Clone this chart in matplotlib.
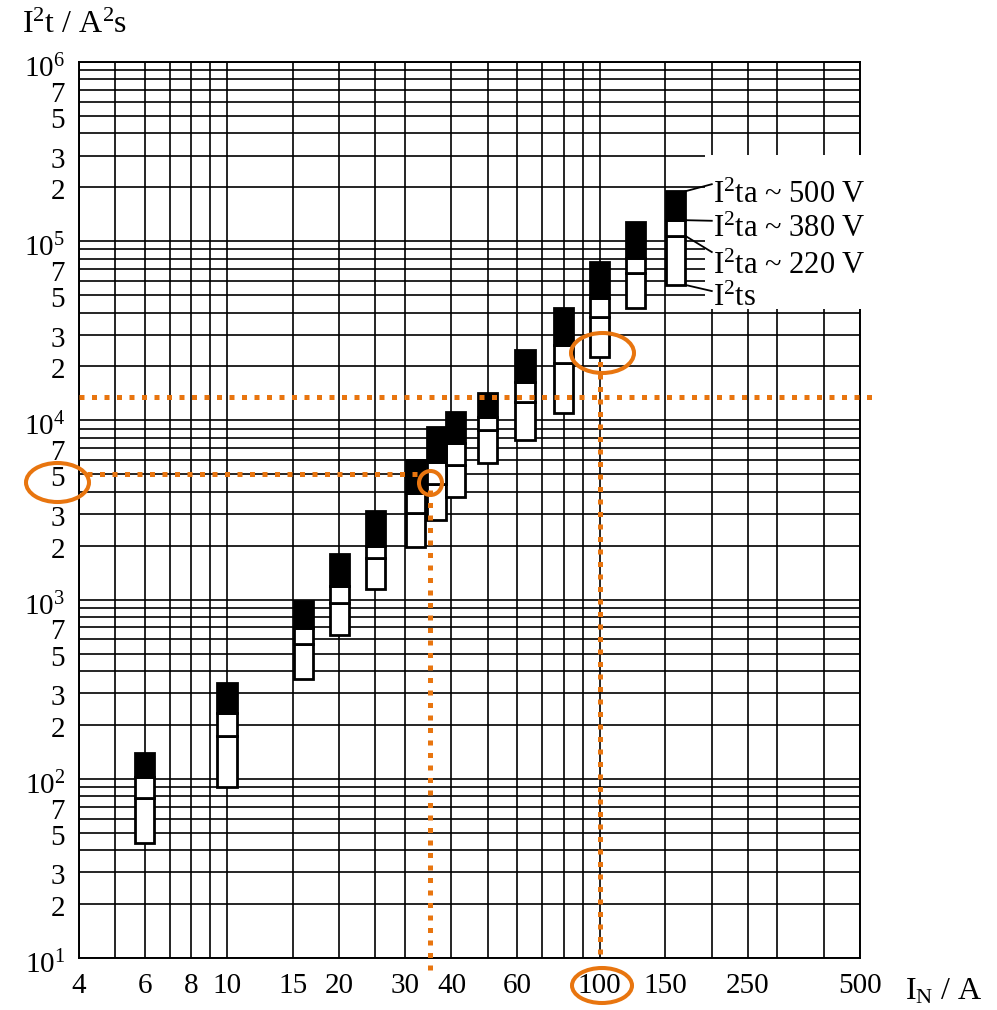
import numpy as np
import matplotlib
matplotlib.use('Agg')
import matplotlib.pyplot as plt
from matplotlib.patches import Rectangle, Ellipse
from matplotlib.ticker import NullFormatter
from matplotlib.transforms import ScaledTranslation

plt.rcParams['font.family'] = 'Liberation Serif'
plt.rcParams['mathtext.fontset'] = 'custom'
plt.rcParams['mathtext.rm'] = 'Liberation Serif'
plt.rcParams['mathtext.it'] = 'Liberation Serif:italic'

# rated currents (A) and where each column is drawn on the x axis
rated = [6, 10, 16, 20, 25, 32, 35, 40, 50, 63, 80, 100, 125, 160]
bar_pos = [6, 10, 16, 20, 25, 32, 36.5, 41, 50, 63, 80, 100, 125, 160]

# I2t values in A2s
i2ts = [44, 90, 360, 635, 1150, 1970, 2780, 3740, 5790, 7780, 11000, 22600, 42400, 57000]
i2ta_220 = [78, 173, 565, 957, 1710, 3040, 4400, 5640, 8840, 12700, 20900, 37800, 66500, 107000]
i2ta_380 = [102, 233, 695, 1190, 1990, 3940, 5860, 7480, 10450, 16400, 26300, 48200, 80500, 131000]
i2ta_500 = [139, 343, 982, 1800, 3120, 6010, 9190, 11140, 14200, 24700, 42400, 76600, 128000, 190000]

legend_labels = ['I$^\\mathregular{2}$ta ~ 500 V', 'I$^\\mathregular{2}$ta ~ 380 V',
                 'I$^\\mathregular{2}$ta ~ 220 V', 'I$^\\mathregular{2}$ts']

x_labeled = [4, 6, 8, 10, 15, 20, 30, 40, 60, 100, 150, 250, 500]
x_unlabeled = [5, 7, 9, 25, 50, 70, 80, 90, 200, 300, 400]
y_mant_labeled = [1, 2, 3, 5, 7]
y_mant_unlabeled = [4, 6, 8, 9]

orange = '#e8750f'
dotted = (0, (1, 1.5))
fs = 21

fig = plt.figure(figsize=(9.97, 10.10), dpi=100)
ax = fig.add_axes([79 / 997, 52 / 1010, 781 / 997, 896 / 1010])
ax.set_xscale('log')
ax.set_yscale('log')
ax.set_xlim(4, 500)
ax.set_ylim(10, 1e6)

# ticks / grid
y_major, y_lab = [], []
for k in range(1, 6):
    for m in y_mant_labeled:
        y_major.append(m * 10 ** k)
        y_lab.append(r'$\mathregular{10^{%d}}$' % k if m == 1 else str(m))
y_major.append(1e6)
y_lab.append(r'$\mathregular{10^{6}}$')
y_minor = [m * 10 ** k for k in range(1, 6) for m in y_mant_unlabeled]

ax.set_yticks(y_major, y_lab)
ax.set_yticks(y_minor, minor=True)
ax.set_xticks(x_labeled, [str(v) for v in x_labeled])
ax.set_xticks(x_unlabeled, minor=True)
ax.xaxis.set_minor_formatter(NullFormatter())
ax.yaxis.set_minor_formatter(NullFormatter())
ax.tick_params(which='both', length=0, labelsize=fs)
ax.tick_params(axis='y', pad=10)
ax.tick_params(axis='x', pad=11)
ax.grid(which='both', color='black', lw=1.2)
ax.set_axisbelow(True)
for s in ax.spines.values():
    s.set_linewidth(1.4)

# the printed labels sit a little below their lines, powers of ten more so
for lab in ax.get_yticklabels():
    dy = 4 if '10^' in lab.get_text() else 2
    lab.set_transform(lab.get_transform() + ScaledTranslation(0, -dy / 100, fig.dpi_scale_trans))

# columns
k = 1.062
left = [p / k for p in bar_pos]
width = [p * k - p / k for p in bar_pos]
ax.bar(left, np.subtract(i2ta_220, i2ts), width=width, bottom=i2ts, align='edge',
       color='white', edgecolor='black', lw=2, zorder=3)
ax.bar(left, np.subtract(i2ta_380, i2ta_220), width=width, bottom=i2ta_220, align='edge',
       color='white', edgecolor='black', lw=2, zorder=3)
ax.bar(left, np.subtract(i2ta_500, i2ta_380), width=width, bottom=i2ta_380, align='edge',
       color='black', edgecolor='black', lw=2, zorder=3)

# legend area
ax.add_patch(Rectangle((0.8015, 0.7243), 0.22, 0.172, transform=ax.transAxes,
                       fc='white', ec='none', zorder=2.6, clip_on=False))
starts = [i2ta_500[-1], i2ta_380[-1], i2ta_220[-1], i2ts[-1]]
ends = [2.08e5, 1.30e5, 8.7e4, 5.27e4]
baselines = [1.63e5, 1.055e5, 6.56e4, 4.35e4]
for s0, e0, b0, lab in zip(starts, ends, baselines, legend_labels):
    ax.plot([bar_pos[-1] * k, 200], [s0, e0], color='black', lw=1.3, zorder=5, clip_on=False)
    ax.text(202, b0, lab, fontsize=fs + 1, va='baseline', ha='left', zorder=6, clip_on=False)

# orange reading aids
ax.plot([4.2, 33.5], [5000, 5000], color=orange, lw=3.6, ls=dotted, zorder=6)
ax.plot([35, 35], [8.6, 4100], color=orange, lw=3.6, ls=dotted, zorder=6, clip_on=False)
ax.plot([4, 560], [1.35e4, 1.35e4], color=orange, lw=3.6, ls=dotted, zorder=6, clip_on=False)
ax.plot([100, 100], [10.5, 2.25e4], color=orange, lw=3.6, ls=dotted, zorder=6)

for cx, cy, w, h in [(57.5, 482.5, 63, 39), (602, 985.5, 60, 35),
                     (602.5, 353, 63, 40), (430.5, 483, 23, 24)]:
    fig.add_artist(Ellipse((cx / 100, (1010 - cy) / 100), w / 100, h / 100,
                           transform=fig.dpi_scale_trans, fill=False,
                           ec=orange, lw=2.9, zorder=10))

fig.text(22 / 997, 1 - 33 / 1010, r'I$^\mathregular{2}$t / A$^\mathregular{2}$s',
         fontsize=fs + 2, va='baseline')
fig.text(905 / 997, 1 - 1000 / 1010, r'I$_\mathregular{N}$ / A', fontsize=fs + 2, va='baseline')

fig.savefig('out.png', dpi=100)
